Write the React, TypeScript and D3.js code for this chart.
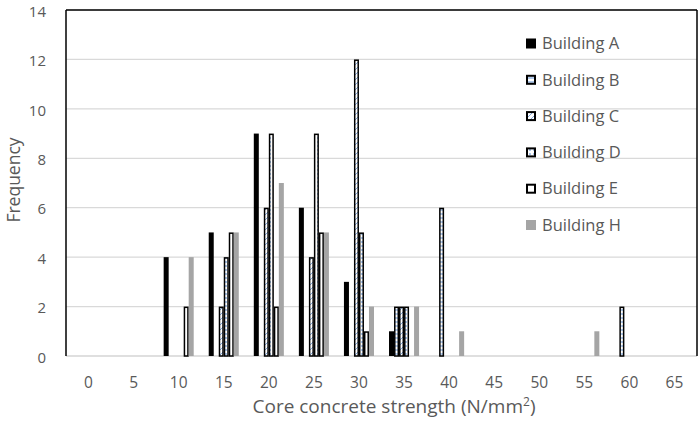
import React from "react";
import * as d3 from "d3";

const categories = ["0", "5", "10", "15", "20", "25", "30", "35", "40", "45", "50", "55", "60", "65"];
const seriesNames = ["Building A", "Building B", "Building C", "Building D", "Building E", "Building H"];
const buildingA = [0, 0, 4, 5, 9, 6, 3, 1, 0, 0, 0, 0, 0, 0];
const buildingB = [0, 0, 0, 0, 0, 0, 0, 2, 6, 0, 0, 0, 2, 0];
const buildingC = [0, 0, 0, 2, 6, 4, 12, 2, 0, 0, 0, 0, 0, 0];
const buildingD = [0, 0, 0, 4, 9, 9, 5, 2, 0, 0, 0, 0, 0, 0];
const buildingE = [0, 0, 2, 5, 2, 5, 1, 0, 0, 0, 0, 0, 0, 0];
const buildingH = [0, 0, 4, 5, 7, 5, 2, 2, 1, 0, 0, 1, 0, 0];
const yTicks = [0, 2, 4, 6, 8, 10, 12, 14];

const allSeries = [buildingA, buildingB, buildingC, buildingD, buildingE, buildingH];

const W = 700, H = 425;
const left = 66, right = 697, top = 10, bottom = 356;
const font = "'Open Sans', sans-serif";
const textColor = "#595959";
const blue = "#7ea6dc";

const styles = [
  { fill: "#000000", stroke: "none", sw: 0 },
  { fill: "url(#patB)", stroke: "#000", sw: 1.5 },
  { fill: "url(#patC)", stroke: "#000", sw: 1.5 },
  { fill: "url(#patD)", stroke: "#000", sw: 1.5 },
  { fill: "#ffffff", stroke: "#000", sw: 1.5 },
  { fill: "#a5a5a5", stroke: "none", sw: 0 },
];

export default function App() {
  const x = d3.scaleBand<string>().domain(categories).range([left, right]).padding(0);
  const catW = x.bandwidth();
  const inner = d3
    .scaleBand<number>()
    .domain(d3.range(seriesNames.length))
    .range([0, catW])
    .paddingInner(0)
    .paddingOuter(1.5);
  const y = d3.scaleLinear().domain([0, 14]).range([bottom, top]);
  const bw = inner.bandwidth();

  const legendY0 = 43.5;
  const legendStep = 36.3;

  return (
    <svg width={W} height={H} style={{ position: "absolute", left: 0, top: 0 }}>
      <defs>
        <pattern id="patB" patternUnits="userSpaceOnUse" width="4" height="4">
          <rect width="4" height="4" fill="#fff" />
          <line x1="0" y1="2" x2="4" y2="2" stroke={blue} strokeWidth="1.2" />
        </pattern>
        <pattern id="patC" patternUnits="userSpaceOnUse" width="5" height="5">
          <rect width="5" height="5" fill="#fff" />
          <path d="M-1,1 L1,-1 M0,5 L5,0 M4,6 L6,4" stroke={blue} strokeWidth="1" />
        </pattern>
        <pattern id="patD" patternUnits="userSpaceOnUse" width="4" height="4">
          <rect width="4" height="4" fill="#fff" />
          <circle cx="2" cy="2" r="0.9" fill={blue} />
        </pattern>
      </defs>
      <rect x={0} y={0} width={W} height={H} fill="#fff" />
      {/* gridlines */}
      {yTicks.map((t) => (
        <line key={t} x1={left} x2={right} y1={y(t)} y2={y(t)} stroke={t === 0 ? "#bfbfbf" : "#d9d9d9"} strokeWidth={1.2} />
      ))}
      {/* bars */}
      {allSeries.map((vals, si) =>
        vals.map((v, ci) =>
          v > 0 ? (
            <rect
              key={`${si}-${ci}`}
              x={(x(categories[ci]) as number) + (inner(si) as number) + (styles[si].sw ? 0.75 : 0)}
              y={y(v) + (styles[si].sw ? 0.75 : 0)}
              width={bw - (styles[si].sw ? 1.5 : 0)}
              height={y(0) - y(v) - (styles[si].sw ? 0.75 : 0)}
              fill={styles[si].fill}
              stroke={styles[si].stroke}
              strokeWidth={styles[si].sw}
            />
          ) : null
        )
      )}
      {/* border */}
      <line x1={left} x2={left} y1={top} y2={bottom} stroke="#000" strokeWidth={1.5} />
      <line x1={left} x2={right} y1={top} y2={top} stroke="#000" strokeWidth={1.5} />
      <line x1={right} x2={right} y1={top} y2={bottom} stroke="#000" strokeWidth={1.5} />
      {/* y ticks */}
      {yTicks.map((t) => (
        <text key={t} x={46} y={y(t) + 1.5} dy="0.35em" textAnchor="end" fontFamily={font} fontSize={15} fill={textColor}>
          {t}
        </text>
      ))}
      {/* x ticks */}
      {categories.map((c) => (
        <text key={c} x={(x(c) as number) + catW / 2} y={383} dy="0.35em" textAnchor="middle" fontFamily={font} fontSize={15.5} fill={textColor}>
          {c}
        </text>
      ))}
      <text x={394} y={413} textAnchor="middle" fontFamily={font} fontSize={19} fill={textColor}>
        Core concrete strength (N/mm<tspan dy="-7" fontSize={12}>2</tspan><tspan dy="7">)</tspan>
      </text>
      <text transform={`translate(20,180) rotate(-90)`} textAnchor="middle" fontFamily={font} fontSize={17.5} fill={textColor}>
        Frequency
      </text>
      {/* legend */}
      {seriesNames.map((n, i) => {
        const ly = legendY0 + i * legendStep;
        const s = styles[i];
        return (
          <g key={n}>
            <rect
              x={526 + (s.sw ? 1 : 0)}
              y={ly - 5 + (s.sw ? 1 : 0)}
              width={10 - (s.sw ? 2 : 0)}
              height={10 - (s.sw ? 2 : 0)}
              fill={s.fill}
              stroke={s.stroke}
              strokeWidth={s.sw ? 2 : 0}
            />
            <text x={542} y={ly} dy="0.35em" fontFamily={font} fontSize={16.5} fill={textColor}>
              {n}
            </text>
          </g>
        );
      })}
    </svg>
  );
}
